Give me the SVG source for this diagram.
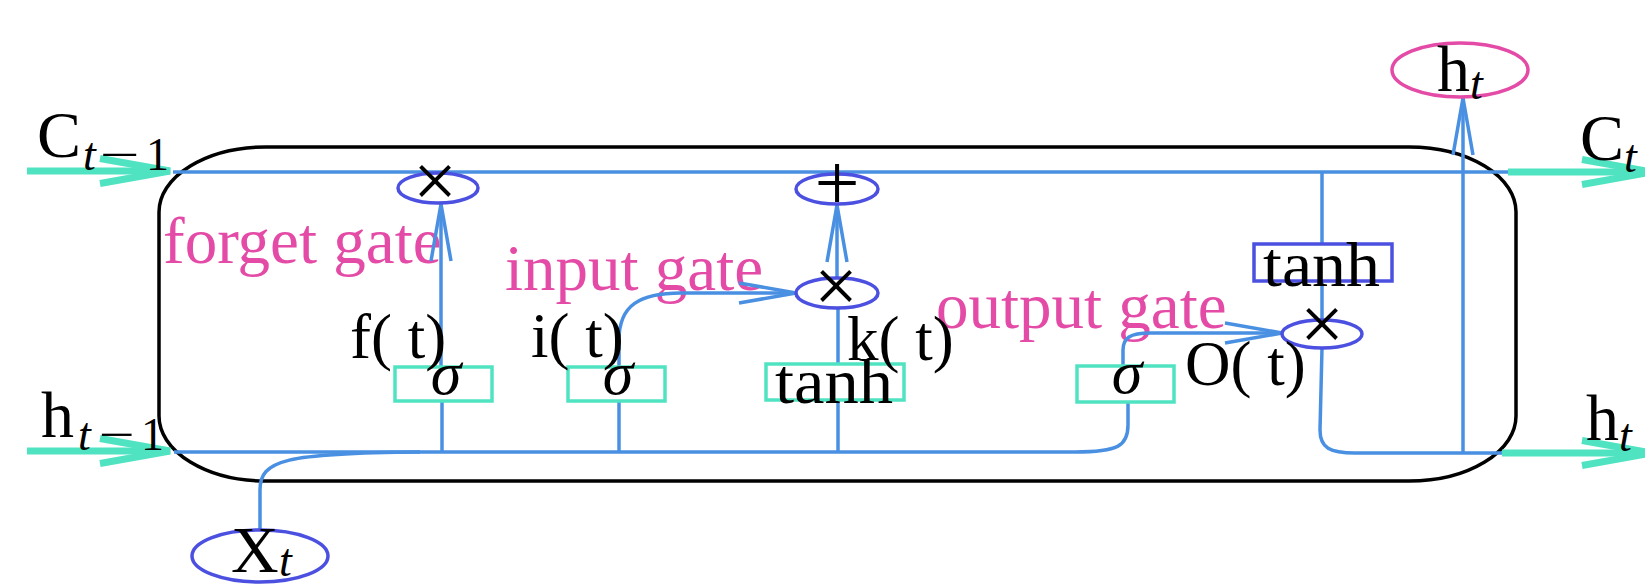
<svg xmlns="http://www.w3.org/2000/svg" width="1645" height="584" viewBox="0 0 1645 584">
<style>
  .txt{font-family:"Liberation Serif","Times New Roman",serif;fill:#000}
  .lbl{font-size:66px}
  .sub{font-size:46px;font-style:italic}
  .subr{font-size:46px}
  .gate{font-family:"Liberation Serif","Times New Roman",serif;font-size:65px;fill:#E44BA7}
  .fn{font-family:"Liberation Serif","Times New Roman",serif;font-size:63px;fill:#000}
  .sig{font-family:"Liberation Serif","Times New Roman",serif;font-size:62px;font-style:italic;fill:#000}
  .op{font-family:"Liberation Serif","Times New Roman",serif;fill:#000}
  .wire{fill:none;stroke:#4A90E2;stroke-width:3.5}
  .teal{fill:none;stroke:#50E3C2;stroke-width:7}
  .opnode{fill:none;stroke:#4B50E0;stroke-width:3.5}
  .gatebox{fill:none;stroke:#50E3C2;stroke-width:3.5}
  .tanhbox{fill:none;stroke:#4B50E0;stroke-width:3.5}
</style>
<defs>
  <marker id="ab" markerWidth="70" markerHeight="30" refX="60" refY="15" orient="auto" markerUnits="userSpaceOnUse" viewBox="0 0 70 30" overflow="visible">
    <path d="M3,5 L60,15 L3,25" fill="none" stroke="#4A90E2" stroke-width="3.5"/>
  </marker>
  <marker id="at" markerWidth="80" markerHeight="34" refX="72" refY="17" orient="auto" markerUnits="userSpaceOnUse" viewBox="0 0 80 34" overflow="visible">
    <path d="M2,4.5 L72,17 L2,29.5" fill="none" stroke="#50E3C2" stroke-width="7"/>
  </marker>
</defs>
<rect width="1645" height="584" fill="#fff"/>

<g id="cell">
  <rect x="159" y="147" width="1357" height="334" rx="107" ry="65" fill="none" stroke="#000" stroke-width="3.5"/>
</g>

<g id="gate-labels">
  <text class="gate" x="163" y="263">forget gate</text>
  <text class="gate" x="505" y="290">input gate</text>
  <text class="gate" x="936" y="328">output gate</text>
</g>

<g id="connectors">
  <path class="teal" d="M27,171 H170" marker-end="url(#at)"/>
  <path class="teal" d="M27,451 H170" marker-end="url(#at)"/>
  <path class="teal" d="M1508,172 H1652" marker-end="url(#at)"/>
  <path class="teal" d="M1502,453 H1652" marker-end="url(#at)"/>
  <path class="wire" d="M173,172 H1508"/>
  <path class="wire" d="M174,452 H1075 C1118,452 1128,446 1128,425 V402"/>
  <path class="wire" d="M260,530 V490 C260,460 285,453 420,452"/>
  <path class="wire" d="M442,452 V401"/>
  <path class="wire" d="M441,367 V204" marker-end="url(#ab)"/>
  <path class="wire" d="M619,452 V401"/>
  <path class="wire" d="M619,367 V340 C619,305 640,293 681,293 H796" marker-end="url(#ab)"/>
  <path class="wire" d="M838,452 V400"/>
  <path class="wire" d="M838,364 V308"/>
  <path class="wire" d="M837,278 V205" marker-end="url(#ab)"/>
  <path class="wire" d="M1123,366 V350 C1123,338 1130,333 1150,333 H1282" marker-end="url(#ab)"/>
  <path class="wire" d="M1322,348 L1320,430 C1320,448 1330,453 1355,453 H1502"/>
  <path class="wire" d="M1322,172 V244"/>
  <path class="wire" d="M1322,281 V320"/>
  <path class="wire" d="M1463,453 V98" marker-end="url(#ab)"/>
</g>

<g id="forget-mult">
  <ellipse class="opnode" cx="438" cy="188" rx="40" ry="15"/>
  <text class="op" x="435" y="207" font-size="78" text-anchor="middle">×</text>
</g>
<g id="add">
  <ellipse class="opnode" cx="837" cy="189" rx="41" ry="15"/>
  <text class="op" x="837" y="210" font-size="80" text-anchor="middle">+</text>
</g>
<g id="input-mult">
  <ellipse class="opnode" cx="837" cy="293" rx="41" ry="15"/>
  <text class="op" x="836" y="312" font-size="78" text-anchor="middle">×</text>
</g>
<g id="output-mult">
  <ellipse class="opnode" cx="1322" cy="334" rx="40" ry="14"/>
  <text class="op" x="1322" y="350" font-size="78" text-anchor="middle">×</text>
</g>

<g id="forget-sigma">
  <rect class="gatebox" x="395" y="367" width="97" height="34"/>
  <text class="sig" x="446" y="394" text-anchor="middle">σ</text>
</g>
<g id="input-sigma">
  <rect class="gatebox" x="568" y="367" width="97" height="34"/>
  <text class="sig" x="618" y="394" text-anchor="middle">σ</text>
</g>
<g id="candidate-tanh">
  <rect class="gatebox" x="766" y="364" width="138" height="36"/>
  <text class="txt" x="775" y="403" font-size="64" textLength="118" lengthAdjust="spacingAndGlyphs">tanh</text>
</g>
<g id="output-sigma">
  <rect class="gatebox" x="1077" y="366" width="97" height="36"/>
  <text class="sig" x="1127" y="393" text-anchor="middle">σ</text>
</g>
<g id="cell-tanh">
  <rect class="tanhbox" x="1254" y="244" width="138" height="37"/>
  <text class="txt" x="1263" y="286" font-size="64" textLength="117" lengthAdjust="spacingAndGlyphs">tanh</text>
</g>

<g id="fn-labels">
  <text class="fn" x="350" y="358">f( t)</text>
  <text class="fn" x="531" y="357">i( t)</text>
  <text class="fn" x="847" y="360">k( t)</text>
  <text class="fn" x="1185" y="385">O( t)</text>
</g>

<g id="c-prev">
  <text class="txt lbl" x="37" y="157">C</text>
  <text class="txt sub" x="83" y="170">t</text>
  <text class="txt subr" x="100" y="170" textLength="40" lengthAdjust="spacingAndGlyphs">−</text>
  <text class="txt subr" x="146" y="170">1</text>
</g>
<g id="h-prev">
  <text class="txt lbl" x="41" y="437">h</text>
  <text class="txt sub" x="78" y="450">t</text>
  <text class="txt subr" x="99" y="450" textLength="36" lengthAdjust="spacingAndGlyphs">−</text>
  <text class="txt subr" x="141" y="450">1</text>
</g>
<g id="c-next">
  <text class="txt lbl" x="1580" y="160">C</text>
  <text class="txt sub" x="1624" y="172">t</text>
</g>
<g id="h-next">
  <text class="txt lbl" x="1586" y="440">h</text>
  <text class="txt sub" x="1619" y="451">t</text>
</g>
<g id="h-out">
  <ellipse cx="1460" cy="70" rx="68" ry="27" fill="none" stroke="#E44BA7" stroke-width="3.5"/>
  <text class="txt lbl" x="1437" y="91">h</text>
  <text class="txt sub" x="1470" y="99">t</text>
</g>
<g id="x-in">
  <ellipse cx="260" cy="556" rx="68" ry="26" fill="none" stroke="#4B50E0" stroke-width="3.5"/>
  <text class="txt lbl" x="231" y="572">X</text>
  <text class="txt sub" x="279" y="576">t</text>
</g>
</svg>
